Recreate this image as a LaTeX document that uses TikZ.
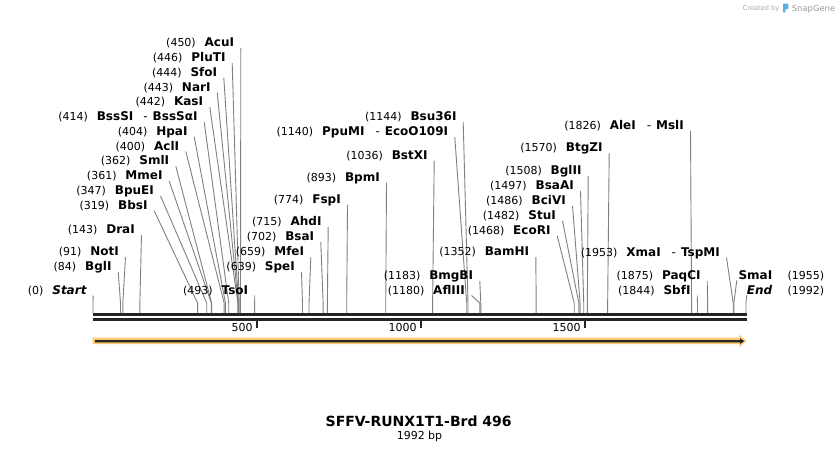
\documentclass[tikz,border=0pt]{standalone}
\usepackage{fontspec}
\setmainfont{DejaVu Sans}
\definecolor{featorange}{RGB}{250,201,112}
\definecolor{bbgray}{RGB}{36,36,36}
\definecolor{snapblue}{RGB}{92,172,228}

\begin{document}
\begin{tikzpicture}[x=1pt,y=-1pt]

    \def\xo{93}
    \def\sc{0.3278}
    \def\ybend{303}
    \def\ycut{313}

    % Styles
    \tikzstyle{enz}=[inner sep=0pt, font=\fontsize{12}{14}\selectfont\bfseries]
    \tikzstyle{num}=[inner sep=0pt, font=\fontsize{11}{13}\selectfont]
    \tikzstyle{cutline}=[draw=black!50, line width=0.9pt]

    \useasboundingbox (0,0) rectangle (840,453);

    % cut positions on the backbone
    \foreach \p in {0,84,91,143,319,347,361,362,400,404,414,442,443,444,446,450,493,
                    639,659,702,715,774,893,1036,1140,1144,1180,1183,1352,1468,1482,
                    1486,1497,1508,1570,1826,1844,1875,1953,1955,1992} {
        \coordinate (k\p) at ({\xo+\sc*\p},\ybend);
        \coordinate (c\p) at ({\xo+\sc*\p},\ycut);
    }

    % backbone
    \draw[bbgray, line width=3pt] (92.7,314.9) -- (746.7,314.9);
    \draw[bbgray, line width=3pt] (92.7,319.2) -- (746.7,319.2);
    \foreach \t in {500,1000,1500} {
        \draw[bbgray, line width=2pt] ({\xo+\sc*\t},320.5) -- ({\xo+\sc*\t},327.5);
        \node[num, anchor=base east] (tk\t) at ({\xo+\sc*\t-4},331) {\t};
    }

    % feature arrow
    \fill[featorange] (92.7,337.7) -- (739.3,337.7) -- (739.3,334.7) -- (746.2,340.9)
        -- (739.3,347.2) -- (739.3,344) -- (92.7,344) -- cycle;
    \fill[bbgray] (95,340) -- (740,340) -- (740,338.3) -- (744.3,341.1)
        -- (740,343.9) -- (740,342.3) -- (95,342.3) -- cycle;

    % enzymes labelled on the left
    \foreach \p/\xr/\yb/\txt in {450/234.3/46.7/AcuI, 446/225.7/61.5/PluTI,
        444/217.3/76.3/SfoI, 443/210.7/91/NarI, 442/203.3/105.8/KasI,
        414/197.7/120.6/{BssSI\hspace{10pt}{\mdseries -}\hspace{5pt}BssSαI},
        404/187.7/135.3/HpaI, 400/179.3/150/AclI, 362/169.3/164.8/SmlI,
        361/162.7/179.6/MmeI, 347/154/194.4/BpuEI, 319/147.7/209.2/BbsI,
        143/135/233.5/DraI, 91/119/255.5/NotI, 84/111.7/270.5/BglI,
        0/86.7/294/{\itshape Start}, 493/248.3/294/TsoI, 639/295/270.5/SpeI,
        659/304.3/255.5/MfeI, 702/314.3/240.3/BsaI, 715/321.7/225.3/AhdI,
        774/341/203.3/FspI, 893/380/181/BpmI, 1036/427.7/159/BstXI,
        1140/448.3/135.7/{PpuMI\hspace{11pt}{\mdseries -}\hspace{5pt}EcoO109I},
        1144/456.7/120.7/Bsu36I, 1183/473.3/279.3/BmgBI, 1180/465/294/AflIII,
        1352/529.3/255.5/BamHI, 1468/550.7/234.3/EcoRI, 1482/556/219.3/StuI,
        1486/566/204.3/BciVI, 1497/574/189.3/BsaAI, 1508/581.7/174.3/BglII,
        1570/602.7/151.7/BtgZI,
        1826/684/129/{AleI\hspace{11pt}{\mdseries -}\hspace{5pt}MslI},
        1953/720/256/{XmaI\hspace{11pt}{\mdseries -}\hspace{5pt}TspMI},
        1875/700.7/279.3/PaqCI, 1844/690.7/294/SbfI} {
        \node[enz, anchor=base east] (e\p) at (\xr,\yb) {\txt};
        \node[num, anchor=base east] (n\p) at ([xshift=-8.5pt]e\p.base west) {(\p)};
        \draw[cutline] ([shift={(6.5pt,-1.5pt)}]e\p.base east) -- (k\p) -- (c\p);
    }

    % enzymes labelled on the right
    \node[enz, anchor=base west] (e1955) at (738.3,279.3) {SmaI};
    \node[num, anchor=base west] (n1955) at ([xshift=15pt]e1955.base east) {(1955)};
    \draw[cutline] ([shift={(-1.5pt,-1pt)}]e1955.base west) -- (k1955) -- (c1955);
    \node[enz, anchor=base west] (e1992) at (746.7,294.3) {\itshape End};
    \node[num, anchor=base west] (n1992) at ([xshift=15pt]e1992.base east) {(1992)};
    \draw[cutline] ([shift={(0pt,-1pt)}]e1992.base west) -- (k1992) -- (c1992);

    % title
    \node[font=\fontsize{14}{16}\selectfont\bfseries, anchor=base] (title) at (418.7,426.7) {SFFV-RUNX1T1-Brd 496};
    \node[num, anchor=base] (length) at (419.5,439.3) {1992 bp};

    % watermark
    \node[inner sep=0pt, font=\fontsize{6.6}{8}\selectfont, text=black!35, anchor=base west] (created) at (742.7,10) {Created by};
    \fill[snapblue, rounded corners=0.8pt] (783,3.6) -- (788.3,3.6) -- (788.3,9) -- (785.4,9) -- (785.4,12.6) -- (783,12.6) -- cycle;
    \node[inner sep=0pt, font=\fontsize{8.4}{10}\selectfont, text=black!40, anchor=base west] (snapgene) at (791.7,11) {SnapGene};

\end{tikzpicture}
\end{document}
